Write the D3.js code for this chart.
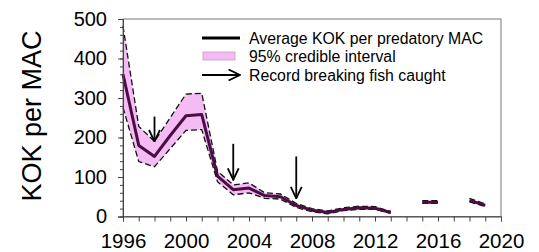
<!DOCTYPE html>
<html>
<head>
<meta charset="utf-8">
<script src="https://cdn.jsdelivr.net/npm/d3@7"></script>
<style>
  body { margin: 0; background: #fff; }
  svg { display: block; }
  text { font-family: "Liberation Sans", Arial, sans-serif; fill: #000; }
</style>
</head>
<body>
<svg id="chart" width="539" height="252"></svg>
<script>
// values
const years = [1996, 1997, 1998, 1999, 2000, 2001, 2002, 2003, 2004, 2005, 2006,
               2007, 2008, 2009, 2010, 2011, 2012, 2013, 2015, 2016, 2018, 2019];
const meanKok = [360, 180, 152, 205, 255, 258, 102, 68, 72, 53, 50,
                 28, 16, 10, 18, 22, 21, 10, 36, 36, 41, 28];
const upperCI = [482, 228, 190, 250, 310, 312, 115, 80, 85, 60, 57,
                 33, 20, 14, 22, 26, 25, 13, 40, 40, 46, 32];
const lowerCI = [276, 139, 126, 172, 218, 220, 88, 55, 60, 46, 44,
                 23, 12, 7, 15, 18, 18, 8, 33, 33, 37, 25];
const arrowYears = [1998, 2003, 2007];
const arrowTop = [253, 184, 152];
const arrowTip = [190, 93, 46];
const yTicks = [0, 100, 200, 300, 400, 500];
const xLabels = [1996, 2000, 2004, 2008, 2012, 2016, 2020];
const legendItems = ["Average KOK per predatory MAC", "95% credible interval", "Record breaking fish caught"];

const svg = d3.select("#chart");
const plotL = 123, plotR = 501, plotT = 19, plotB = 216.5;

const x = d3.scaleLinear().domain([1996, 2020]).range([plotL, plotR]);
const y = d3.scaleLinear().domain([0, 500]).range([plotB, plotT]);

const rows = years.map((yr, i) => ({ yr, m: meanKok[i], hi: upperCI[i], lo: lowerCI[i] }));
// break the lines where a year is missing
const segments = [];
rows.forEach((d, i) => {
  if (i === 0 || d.yr - rows[i - 1].yr > 1) segments.push([]);
  segments[segments.length - 1].push(d);
});

// open arrow head
const defs = svg.append("defs");
defs.append("marker")
  .attr("id", "head")
  .attr("viewBox", "0 0 10 10")
  .attr("refX", 9.3).attr("refY", 5)
  .attr("markerWidth", 13).attr("markerHeight", 13)
  .attr("markerUnits", "userSpaceOnUse")
  .attr("orient", "auto")
  .append("path")
  .attr("d", "M0.5,0.8 L9.3,5 L0.5,9.2")
  .attr("fill", "none")
  .attr("stroke", "#000")
  .attr("stroke-width", 1.4);

// frame
svg.append("rect")
  .attr("x", plotL).attr("y", plotT)
  .attr("width", plotR - plotL).attr("height", plotB - plotT)
  .attr("fill", "none").attr("stroke", "#777").attr("stroke-width", 1);

const area = d3.area().x(d => x(d.yr)).y0(d => y(d.lo)).y1(d => y(d.hi));
const lineOf = key => d3.line().x(d => x(d.yr)).y(d => y(d[key]));

const g = svg.append("g");
g.selectAll("path.band").data(segments).join("path")
  .attr("class", "band")
  .attr("d", area)
  .attr("fill", "#f5bbf4");

["hi", "lo"].forEach(k => {
  g.selectAll("path.b" + k).data(segments).join("path")
    .attr("class", "b" + k)
    .attr("d", lineOf(k))
    .attr("fill", "none")
    .attr("stroke", "#111")
    .attr("stroke-width", 1.3)
    .attr("stroke-dasharray", "6,3");
});

g.selectAll("path.mean").data(segments).join("path")
  .attr("class", "mean")
  .attr("d", lineOf("m"))
  .attr("fill", "none")
  .attr("stroke", "#4a0e42")
  .attr("stroke-width", 3)
  .attr("stroke-linejoin", "round");

// arrows for record fish
g.selectAll("line.arrow").data(arrowYears).join("line")
  .attr("class", "arrow")
  .attr("x1", d => x(d)).attr("x2", d => x(d))
  .attr("y1", (d, i) => y(arrowTop[i]))
  .attr("y2", (d, i) => y(arrowTip[i]))
  .attr("stroke", "#000")
  .attr("stroke-width", 1.8)
  .attr("marker-end", "url(#head)");

// axes
const yAxis = svg.append("g")
  .attr("transform", `translate(${plotL},0)`)
  .call(d3.axisLeft(y).tickValues(yTicks).tickSize(5).tickPadding(11).tickFormat(d3.format("d")));
yAxis.select(".domain").attr("stroke", "#444");
yAxis.selectAll(".tick line").attr("stroke", "#444");
yAxis.selectAll("text").attr("font-size", 20).attr("font-family", "Liberation Sans, Arial, sans-serif");

svg.append("g")
  .attr("transform", `translate(${plotL},0)`)
  .call(d3.axisLeft(y).tickValues(d3.range(0, 501, 20)).tickSize(3).tickFormat(""))
  .call(s => s.select(".domain").remove())
  .selectAll(".tick line").attr("stroke", "#444");

const xAxis = svg.append("g")
  .attr("transform", `translate(0,${plotB})`)
  .call(d3.axisBottom(x).tickValues(d3.range(1996, 2021, 1)).tickSize(5).tickPadding(12)
    .tickFormat(d => xLabels.includes(d) ? String(d) : ""));
xAxis.select(".domain").attr("stroke", "#444");
xAxis.selectAll(".tick line").attr("stroke", "#444");
xAxis.selectAll("text").attr("font-size", 20.5).attr("font-family", "Liberation Sans, Arial, sans-serif");

// y label
svg.append("text")
  .attr("transform", "translate(41,116) rotate(-90)")
  .attr("text-anchor", "middle")
  .attr("font-size", 27)
  .text("KOK per MAC");

// legend
const lg = svg.append("g");
lg.append("line")
  .attr("x1", 202).attr("x2", 240).attr("y1", 38).attr("y2", 38)
  .attr("stroke", "#000").attr("stroke-width", 3);
lg.append("rect")
  .attr("x", 203).attr("y", 52).attr("width", 32).attr("height", 8)
  .attr("fill", "#f5bbf4").attr("stroke", "#c99bc6").attr("stroke-width", 0.8);
lg.append("line")
  .attr("x1", 202).attr("x2", 240).attr("y1", 75).attr("y2", 75)
  .attr("stroke", "#000").attr("stroke-width", 1.8)
  .attr("marker-end", "url(#head)");
lg.selectAll("text").data(legendItems).join("text")
  .attr("x", 249)
  .attr("y", (d, i) => [43.5, 61.5, 80.5][i])
  .attr("font-size", 15.8)
  .text(d => d);
</script>
</body>
</html>
